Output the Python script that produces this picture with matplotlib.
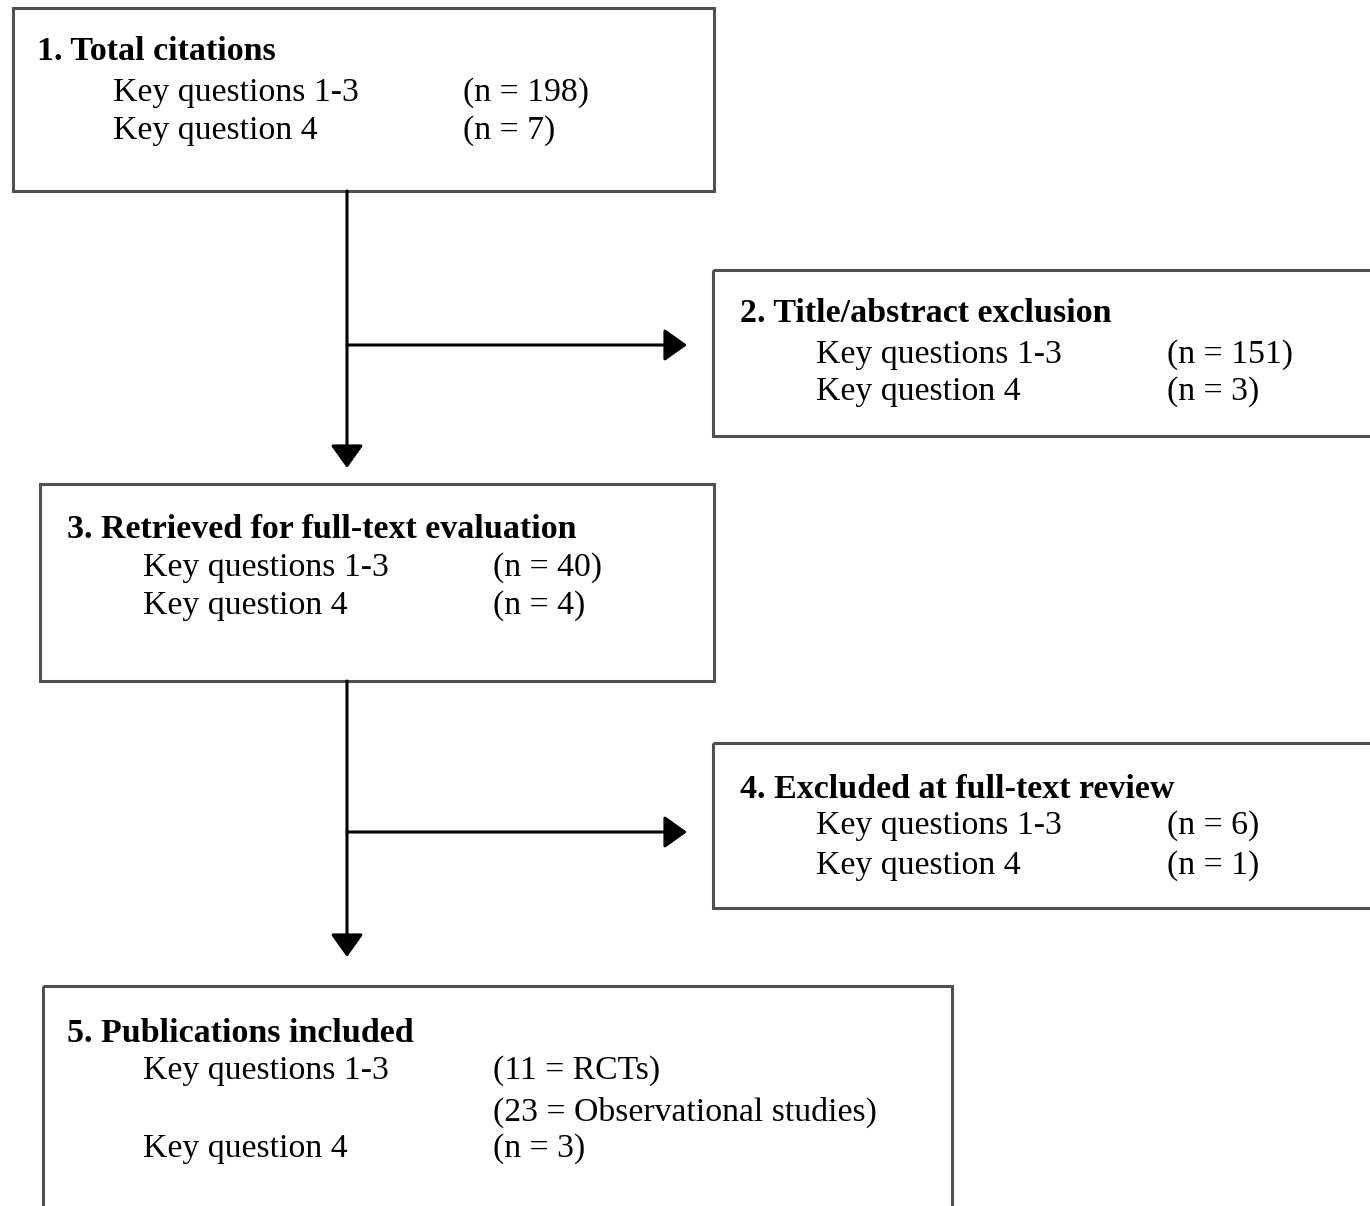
import matplotlib.pyplot as plt
from matplotlib.patches import Rectangle

# 流程图的文字内容
titles = ['1. Total citations', '2. Title/abstract exclusion',
          '3. Retrieved for full-text evaluation', '4. Excluded at full-text review',
          '5. Publications included']
labels = [['Key questions 1-3', 'Key question 4'],
          ['Key questions 1-3', 'Key question 4'],
          ['Key questions 1-3', 'Key question 4'],
          ['Key questions 1-3', 'Key question 4'],
          ['Key questions 1-3', '', 'Key question 4']]
counts = [['(n = 198)', '(n = 7)'],
          ['(n = 151)', '(n = 3)'],
          ['(n = 40)', '(n = 4)'],
          ['(n = 6)', '(n = 1)'],
          ['(11 = RCTs)', '(23 = Observational studies)', '(n = 3)']]

# 方框位置 (左, 上, 右, 下)，像素坐标
boxes = [(13, 8, 714, 191), (713, 270, 1380, 436), (40, 484, 714, 681),
         (713, 743, 1380, 908), (43, 986, 952, 1220)]
title_pos = [(37, 52), (740, 314), (67, 530), (740, 789), (67, 1033)]
label_x = [113, 816, 143, 816, 143]
count_x = [463, 1167, 493, 1167, 493]
row_y = [[93, 131], [355, 392], [568, 606], [826, 866], [1071, 1112, 1149]]

plt.rcParams['font.family'] = ['Liberation Serif', 'DejaVu Serif']
fig = plt.figure(figsize=(13.7, 12.06), dpi=100)
ax = fig.add_axes([0, 0, 1, 1])
ax.set_xlim(0, 1370)
ax.set_ylim(1206, 0)
ax.axis('off')

for i in range(len(boxes)):
    x0, y0, x1, y1 = boxes[i]
    ax.add_patch(Rectangle((x0, y0), x1 - x0, y1 - y0, fill=False,
                           edgecolor='#505050', linewidth=2.2))
    ax.text(title_pos[i][0], title_pos[i][1], titles[i], fontsize=24.5,
            fontweight='bold', va='center', ha='left', color='black')
    for lab, cnt, y in zip(labels[i], counts[i], row_y[i]):
        ax.text(label_x[i], y, lab, fontsize=24.3, va='center', ha='left')
        ax.text(count_x[i], y, cnt, fontsize=24.3, va='center', ha='left')

# 箭头：竖线和横线
def arrow(x0, y0, x1, y1):
    ax.annotate('', xy=(x1, y1), xytext=(x0, y0),
                arrowprops=dict(arrowstyle='-|>,head_length=1.4,head_width=1.0',
                                color='black', lw=2.2, shrinkA=0, shrinkB=0))

arrow(347, 191, 347, 468)
arrow(347, 345, 687, 345)
arrow(347, 681, 347, 957)
arrow(347, 832, 687, 832)

plt.savefig('out.png', dpi=100)
